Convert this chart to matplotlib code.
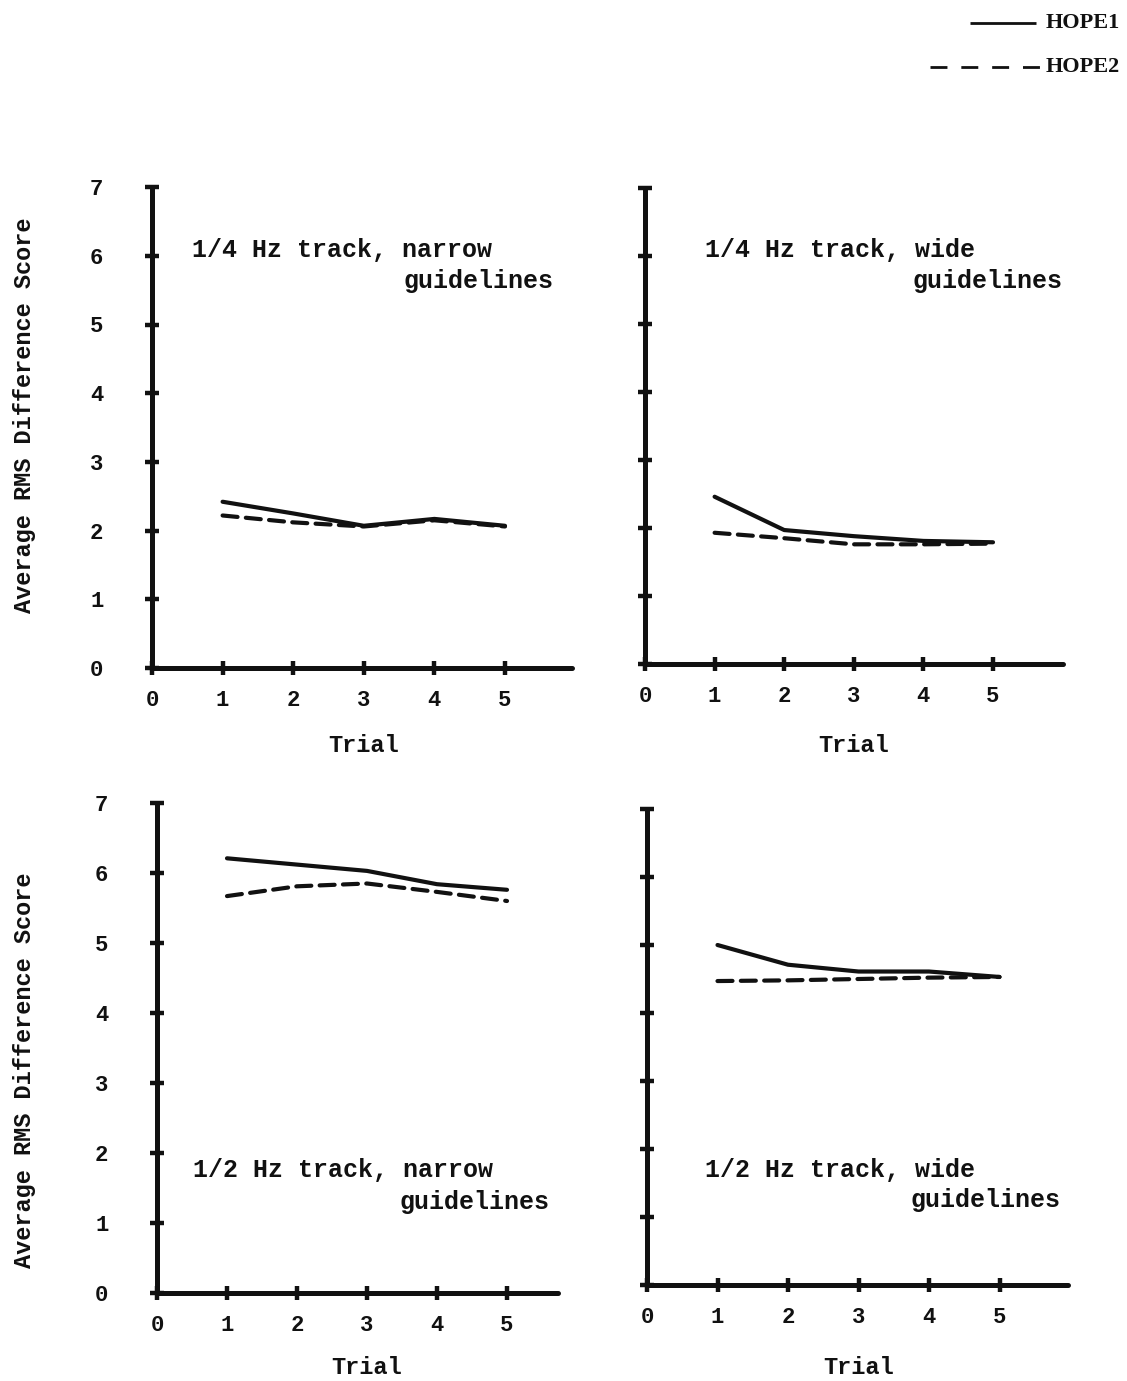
import matplotlib
matplotlib.use("Agg")
import matplotlib.pyplot as plt
from matplotlib.lines import Line2D

# RMS difference scores per trial, read per condition
trials = [1, 2, 3, 4, 5]
x_tick_labels = ["0", "1", "2", "3", "4", "5"]
y_tick_labels = ["0", "1", "2", "3", "4", "5", "6", "7"]

hope1_quarter_narrow = [2.42, 2.25, 2.07, 2.17, 2.07]
hope2_quarter_narrow = [2.22, 2.12, 2.06, 2.15, 2.06]
hope1_quarter_wide = [2.46, 1.97, 1.88, 1.81, 1.79]
hope2_quarter_wide = [1.93, 1.85, 1.76, 1.76, 1.77]
hope1_half_narrow = [6.21, 6.12, 6.03, 5.84, 5.76]
hope2_half_narrow = [5.67, 5.81, 5.85, 5.73, 5.60]
hope1_half_wide = [5.00, 4.71, 4.61, 4.61, 4.53]
hope2_half_wide = [4.47, 4.48, 4.50, 4.52, 4.53]

titles = [
    ("1/4 Hz track, narrow", "guidelines"),
    ("1/4 Hz track, wide", "guidelines"),
    ("1/2 Hz track, narrow", "guidelines"),
    ("1/2 Hz track, wide", "guidelines"),
]

W, H = 1127, 1381
INK = "#111111"
MONO = "Liberation Mono"

# pixel layout: origin x, origin y (from top), px per x unit, px per y unit, x extent
layout = [
    (152, 668, 70.6, 68.7, 5.95),
    (645, 664, 69.6, 68.0, 6.00),
    (157, 1293, 70.0, 70.0, 5.73),
    (647, 1285, 70.5, 68.0, 5.97),
]
# title placement in data units: first line left x/y, second line right x/y
title_pos = [
    (0.57, 6.08, 5.68, 5.63),
    (0.86, 6.09, 6.00, 5.63),
    (0.51, 1.76, 5.61, 1.30),
    (0.82, 1.69, 5.86, 1.25),
]
# "Trial" label centre, pixels below the x axis
trial_drop = [77, 81, 74, 82]
series = [
    (hope1_quarter_narrow, hope2_quarter_narrow),
    (hope1_quarter_wide, hope2_quarter_wide),
    (hope1_half_narrow, hope2_half_narrow),
    (hope1_half_wide, hope2_half_wide),
]

fig = plt.figure(figsize=(W / 100, H / 100), dpi=100)
fig.patch.set_facecolor("white")

for i, ((x0, y0, sx, sy, xmax), (h1, h2)) in enumerate(zip(layout, series)):
    ymax = 7.0
    w_px, h_px = xmax * sx, ymax * sy
    ax = fig.add_axes([x0 / W, (H - y0) / H, w_px / W, h_px / H])
    ax.set_xlim(0, xmax)
    ax.set_ylim(0, ymax)
    ax.patch.set_alpha(0)

    for s in ["top", "right"]:
        ax.spines[s].set_visible(False)
    for s in ["left", "bottom"]:
        ax.spines[s].set_linewidth(3.6)
        ax.spines[s].set_color(INK)
        ax.spines[s].set_capstyle("round")

    ax.plot(trials, h1, color=INK, lw=3.0, solid_capstyle="round")
    ax.plot(trials, h2, color=INK, lw=3.0, dashes=(3.6, 2.0), dash_capstyle="round")

    ax.set_xticks(range(6))
    ax.set_xticklabels(x_tick_labels)
    ax.set_yticks(range(8))
    left_col = i % 2 == 0
    ax.set_yticklabels(y_tick_labels if left_col else [""] * 8)
    ax.tick_params(axis="both", direction="inout", length=10, width=3.2,
                   color=INK, labelcolor=INK, labelsize=16)
    ax.tick_params(axis="x", pad=11)
    ax.tick_params(axis="y", pad=30)
    for lab in ax.get_xticklabels() + ax.get_yticklabels():
        lab.set_fontfamily(MONO)
        lab.set_fontweight("bold")

    ax.set_xlabel("Trial", fontsize=17, fontfamily=MONO, fontweight="bold",
                  color=INK, va="center")
    ax.xaxis.set_label_coords(3.0 / xmax, -trial_drop[i] / h_px)
    if left_col:
        ax.set_ylabel("Average RMS Difference Score", fontsize=17, fontfamily=MONO,
                      fontweight="bold", color=INK, va="center")
        yc = 415 if i == 0 else 1070
        ax.yaxis.set_label_coords((25 - x0) / w_px, (y0 - yc) / h_px)

    tx1, ty1, tx2, ty2 = title_pos[i]
    line1, line2 = titles[i]
    ax.text(tx1, ty1, line1, ha="left", va="center", fontsize=18,
            fontfamily=MONO, fontweight="bold", color=INK)
    ax.text(tx2, ty2, line2, ha="right", va="center", fontsize=18,
            fontfamily=MONO, fontweight="bold", color=INK)

# key in the top right corner
fig.add_artist(Line2D([970 / W, 1036 / W], [1 - 23 / H, 1 - 23 / H],
                      color=INK, lw=2.0, solid_capstyle="butt"))
fig.add_artist(Line2D([930 / W, 1040 / W], [1 - 67 / H, 1 - 67 / H],
                      color=INK, lw=2.0, dashes=(6.1, 5.0), dash_capstyle="butt"))
fig.text(1046 / W, 1 - 23 / H, "HOPE1", ha="left", va="center", fontsize=16,
         fontfamily="Liberation Serif", fontweight="bold", color=INK)
fig.text(1046 / W, 1 - 67 / H, "HOPE2", ha="left", va="center", fontsize=16,
         fontfamily="Liberation Serif", fontweight="bold", color=INK)

fig.savefig("out.png", dpi=100, facecolor="white")
